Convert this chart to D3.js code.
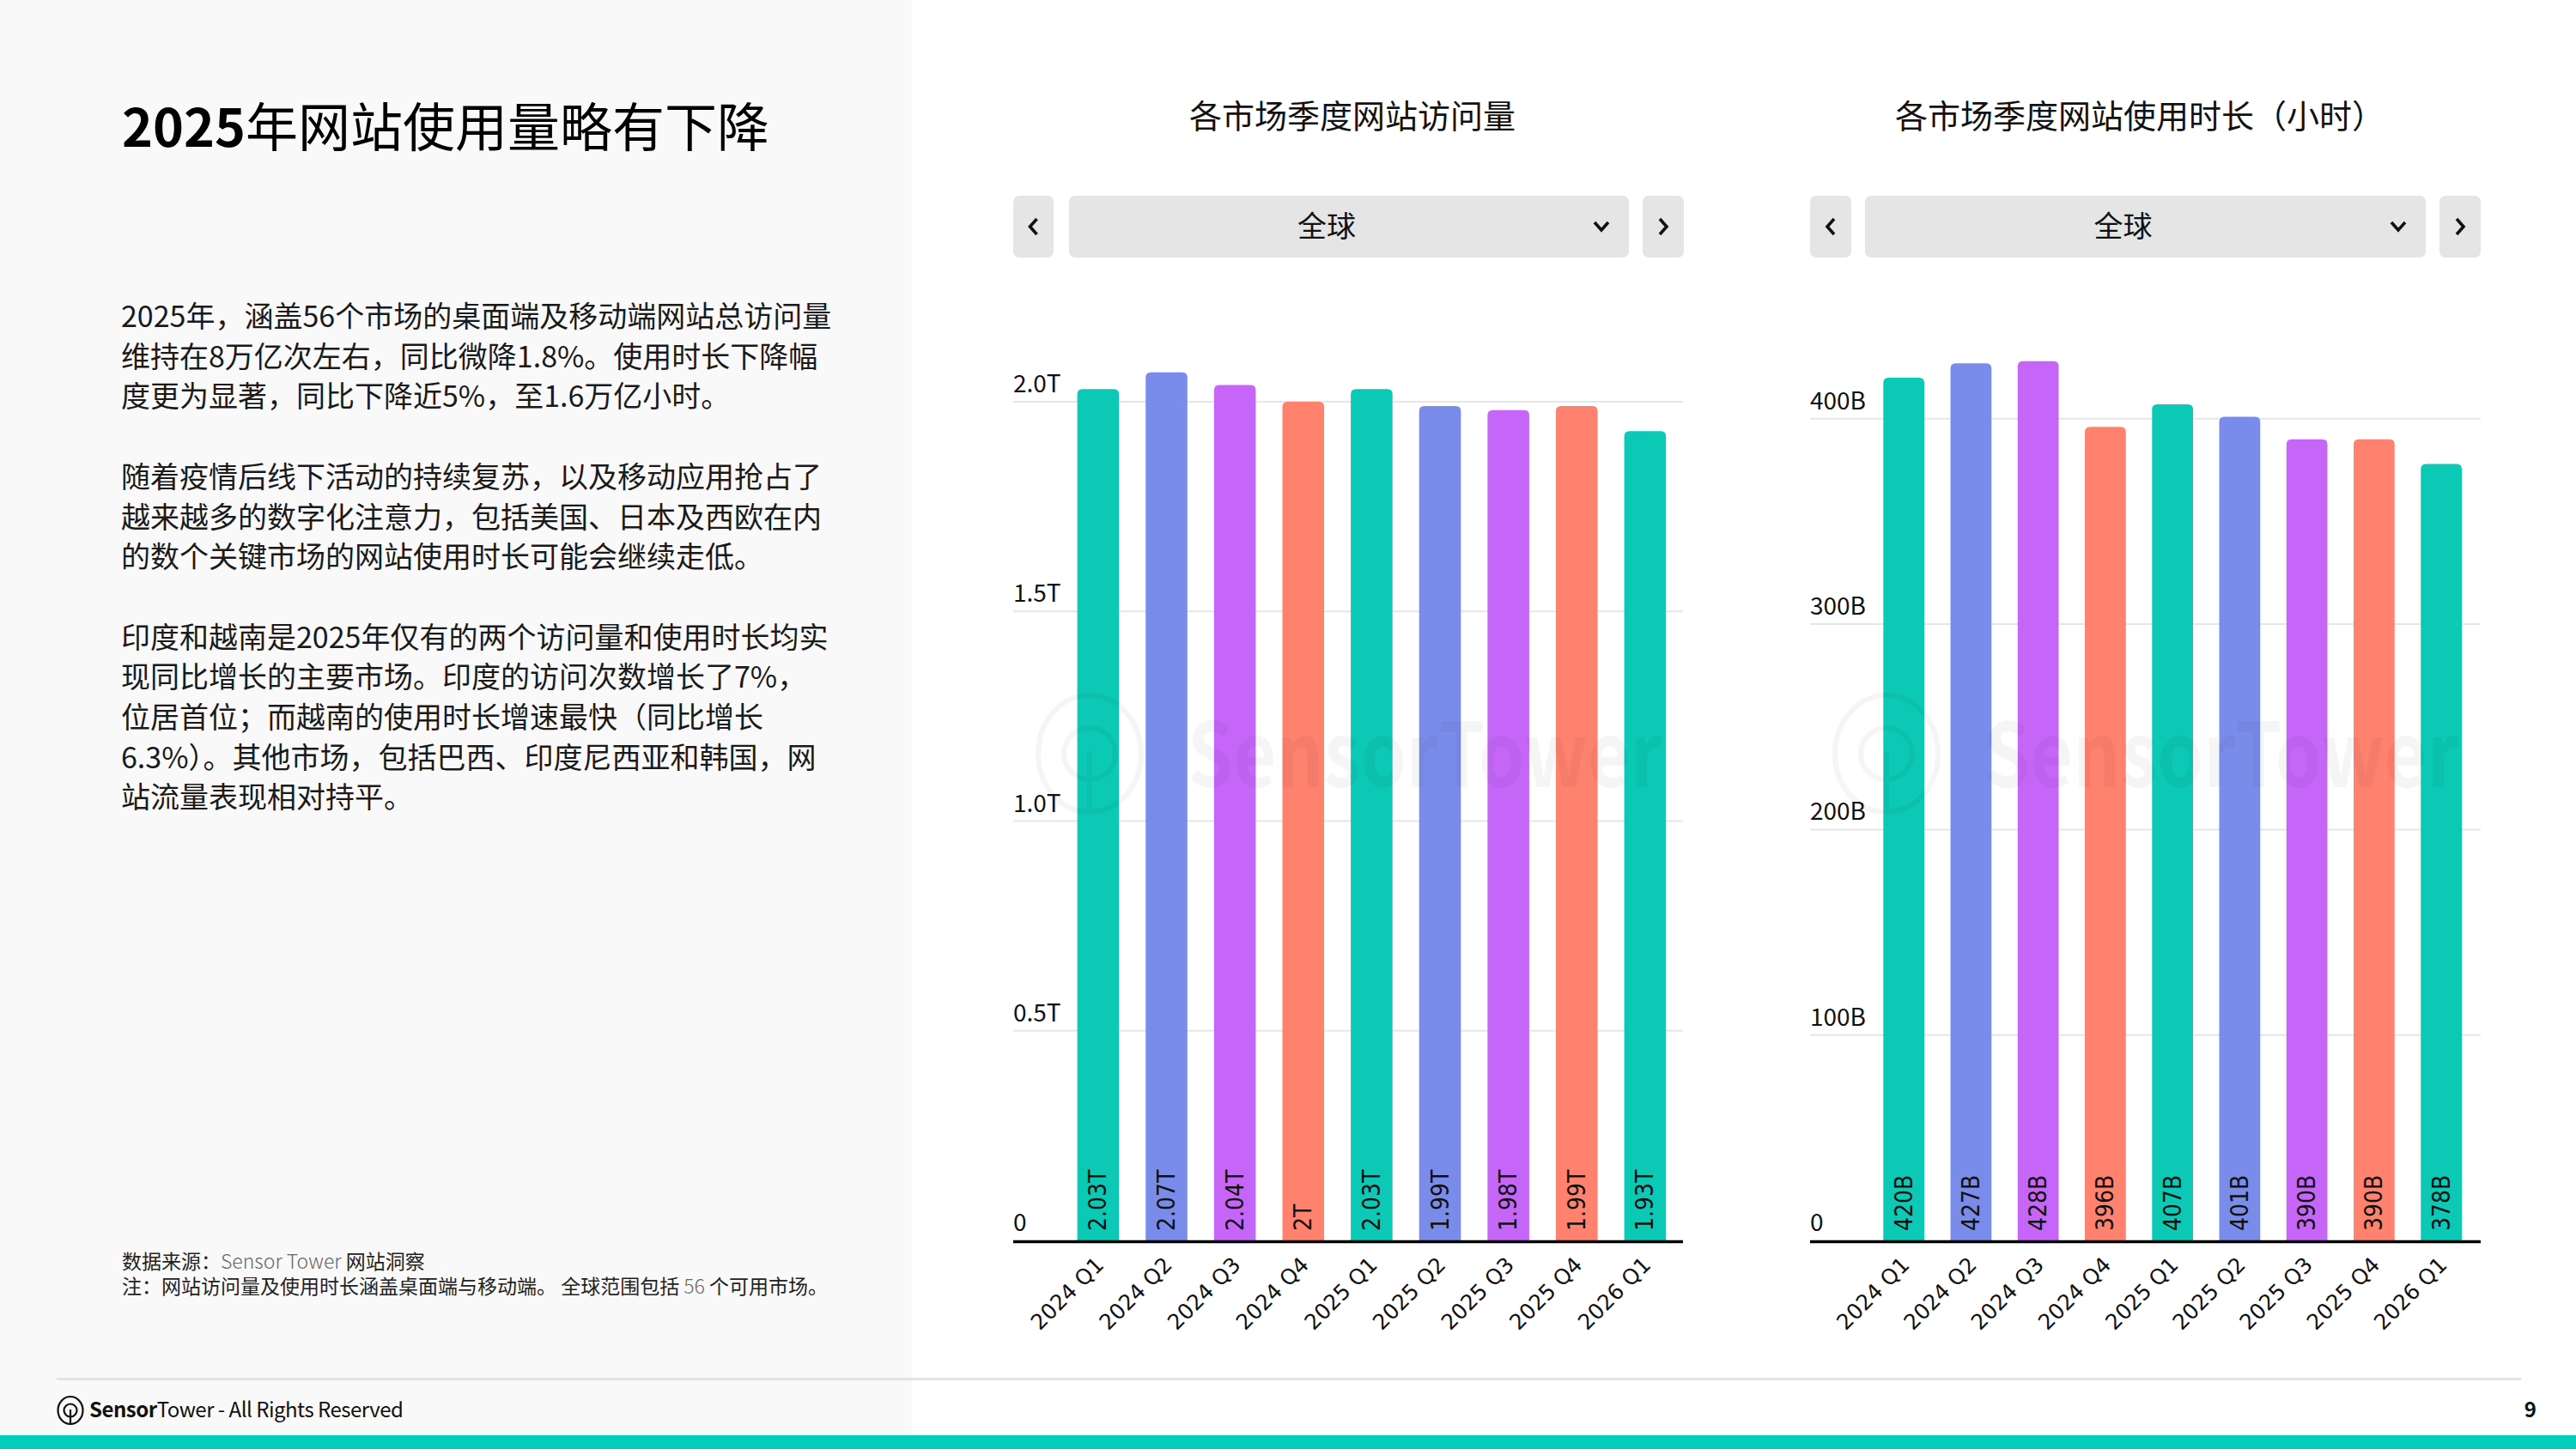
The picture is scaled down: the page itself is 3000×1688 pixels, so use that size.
<!DOCTYPE html>
<html><head><meta charset="utf-8">
<script src="https://cdn.jsdelivr.net/npm/d3@7"></script>
<style>
html,body{margin:0;padding:0;background:#fff;}
svg{display:block;}
</style></head>
<body>
<svg id="c" width="3000" height="1688"></svg>
<script>
// ---------- data ----------
const quarters = ["2024 Q1","2024 Q2","2024 Q3","2024 Q4","2025 Q1","2025 Q2","2025 Q3","2025 Q4","2026 Q1"];
const visits = [2.03, 2.07, 2.04, 2.00, 2.03, 1.99, 1.98, 1.99, 1.93];          // trillions
const visitLabels = ["2.03T","2.07T","2.04T","2T","2.03T","1.99T","1.98T","1.99T","1.93T"];
const hours = [420, 427, 428, 396, 407, 401, 390, 390, 378];                   // billions
const hourLabels = ["420B","427B","428B","396B","407B","401B","390B","390B","378B"];
const visitTicks = [0, 0.5, 1.0, 1.5, 2.0];
const visitTickLabels = ["0","0.5T","1.0T","1.5T","2.0T"];
const hourTicks = [0, 100, 200, 300, 400];
const hourTickLabels = ["0","100B","200B","300B","400B"];
const barColors = ["#0CC9B5","#798CE9","#C566F8","#FF826F"];

const pageTitleNum = "2025";
const pageTitleRest = "年网站使用量略有下降";
const bodyLines = [
  "2025年，涵盖56个市场的桌面端及移动端网站总访问量",
  "维持在8万亿次左右，同比微降1.8%。使用时长下降幅",
  "度更为显著，同比下降近5%，至1.6万亿小时。",
  "",
  "随着疫情后线下活动的持续复苏，以及移动应用抢占了",
  "越来越多的数字化注意力，包括美国、日本及西欧在内",
  "的数个关键市场的网站使用时长可能会继续走低。",
  "",
  "印度和越南是2025年仅有的两个访问量和使用时长均实",
  "现同比增长的主要市场。印度的访问次数增长了7%，",
  "位居首位；而越南的使用时长增速最快（同比增长",
  "6.3%）。其他市场，包括巴西、印度尼西亚和韩国，网",
  "站流量表现相对持平。"
];
const chartTitles = ["各市场季度网站访问量", "各市场季度网站使用时长（小时）"];
const selectorText = "全球";

// ---------- drawing ----------
const svg = d3.select("#c");
const CJK = "'Noto Sans CJK SC','Noto Sans',sans-serif";
const DV = "'DejaVu Sans Condensed','DejaVu Sans',sans-serif";

// left panel
svg.append("rect").attr("x",0).attr("y",0).attr("width",1062).attr("height",1672).attr("fill","#f9f9f9");

// page title
const tt = svg.append("text").attr("x",142).attr("y",171).attr("font-family",CJK).attr("font-size",61).attr("fill","#000");
tt.append("tspan").attr("font-weight",700).text(pageTitleNum);
tt.append("tspan").attr("font-weight",400).text(pageTitleRest);

// body
const body = svg.append("text").attr("font-family",CJK).attr("font-size",34).attr("fill","#1a1a1a");
bodyLines.forEach((l,i)=>{
  if(!l) return;
  body.append("tspan").attr("x",141).attr("y",381 + i*46.7).text(l);
});

// footnotes
const fn1 = svg.append("text").attr("x",142).attr("y",1478).attr("font-family",CJK).attr("font-size",23).attr("fill","#222");
fn1.append("tspan").text("数据来源：");
fn1.append("tspan").attr("fill","#666").attr("font-weight",300).text("Sensor Tower ");
fn1.append("tspan").text("网站洞察");
const fn2 = svg.append("text").attr("x",142).attr("y",1507).attr("font-family",CJK).attr("font-size",23).attr("fill","#222");
fn2.append("tspan").text("注：网站访问量及使用时长涵盖桌面端与移动端。 全球范围包括 ");
fn2.append("tspan").attr("fill","#666").attr("font-weight",300).text("56");
fn2.append("tspan").text(" 个可用市场。");

// separator + footer
svg.append("line").attr("x1",66).attr("x2",2936).attr("y1",1606.5).attr("y2",1606.5).attr("stroke","#e3e3e3").attr("stroke-width",3);
svg.append("rect").attr("x",0).attr("y",1672).attr("width",3000).attr("height",16).attr("fill","#00CEB8");
// footer logo
const lg = svg.append("g").attr("transform","translate(82,1643)");
lg.append("ellipse").attr("rx",14.5).attr("ry",16).attr("fill","none").attr("stroke","#111").attr("stroke-width",2.2);
lg.append("circle").attr("r",7.5).attr("fill","none").attr("stroke","#111").attr("stroke-width",2.2);
lg.append("line").attr("x1",0).attr("x2",0).attr("y1",-1).attr("y2",16).attr("stroke","#111").attr("stroke-width",2.2);
const ft = svg.append("text").attr("x",104).attr("y",1651).attr("font-family",CJK).attr("font-size",24).attr("fill","#111").attr("letter-spacing",-0.5);
ft.append("tspan").attr("font-weight",700).text("Sensor");
ft.append("tspan").text("Tower - All Rights Reserved");
svg.append("text").attr("x",2954).attr("y",1651).attr("text-anchor","end").attr("font-family",CJK).attr("font-size",24).attr("font-weight",700).attr("fill","#111").text("9");

// ---------- charts ----------
const charts = [
  {title: chartTitles[0], titleX: 1575, values: visits, labels: visitLabels, ticks: visitTicks, tickLabels: visitTickLabels,
   domainMax: 2.0, topY: 468, gridL: 1180, gridR: 1960, barL: 1254.6, barR: 1940.2,
   btnL: [1180,1227], main: [1245,1897], btnR: [1913,1961]},
  {title: chartTitles[1], titleX: 2492, values: hours, labels: hourLabels, ticks: hourTicks, tickLabels: hourTickLabels,
   domainMax: 400, topY: 487.8, gridL: 2108, gridR: 2889, barL: 2193.3, barR: 2867,
   btnL: [2108,2156], main: [2172,2825], btnR: [2841,2889]}
];
const baseY = 1445;

charts.forEach(ch => {
  const g = svg.append("g");
  // title
  g.append("text").attr("x",ch.titleX).attr("y",149).attr("text-anchor","middle")
    .attr("font-family",CJK).attr("font-size",38).attr("fill","#111").text(ch.title);
  // selector
  const by = 228, bh = 72;
  [ch.btnL, ch.main, ch.btnR].forEach(b => {
    g.append("rect").attr("x",b[0]).attr("y",by).attr("width",b[1]-b[0]).attr("height",bh).attr("rx",7).attr("fill","#e5e5e5");
  });
  const cy = by + bh/2;
  const lx = (ch.btnL[0]+ch.btnL[1])/2, rx = (ch.btnR[0]+ch.btnR[1])/2;
  g.append("path").attr("d",`M${lx+4},${cy-9}L${lx-4},${cy}L${lx+4},${cy+9}`).attr("fill","none").attr("stroke","#111").attr("stroke-width",3.6);
  g.append("path").attr("d",`M${rx-4},${cy-9}L${rx+4},${cy}L${rx-4},${cy+9}`).attr("fill","none").attr("stroke","#111").attr("stroke-width",3.6);
  const dx = ch.main[1] - 32;
  g.append("path").attr("d",`M${dx-8},${cy-5}L${dx},${cy+4}L${dx+8},${cy-5}`).attr("fill","none").attr("stroke","#111").attr("stroke-width",3.6);
  g.append("text").attr("x",(ch.main[0]+ch.main[1])/2 - 26).attr("y",cy+12).attr("text-anchor","middle")
    .attr("font-family",CJK).attr("font-size",34).attr("fill","#111").text(selectorText);

  // scales
  const y = d3.scaleLinear().domain([0, ch.domainMax]).range([baseY, ch.topY]);
  const pad = 0.39;
  const x = d3.scaleBand().domain(quarters).range([ch.barL, ch.barR]).paddingInner(pad).paddingOuter(0);

  // grid + y labels
  ch.ticks.forEach((t,i) => {
    if (t !== 0) g.append("line").attr("x1",ch.gridL).attr("x2",ch.gridR).attr("y1",y(t)).attr("y2",y(t))
      .attr("stroke","#e6e6e6").attr("stroke-width",2);
    g.append("text").attr("x",ch.gridL).attr("y",y(t)-11).attr("font-family",CJK).attr("font-size",28)
      .attr("fill","#111").text(ch.tickLabels[i]);
  });

  // bars with rounded tops
  const r = 6;
  g.selectAll("path.bar").data(ch.values).join("path").attr("class","bar")
    .attr("fill",(d,i)=>barColors[i%4])
    .attr("d",(d,i)=>{
      const x0 = x(quarters[i]), w = x.bandwidth(), yt = y(d);
      return `M${x0},${baseY}V${yt+r}Q${x0},${yt} ${x0+r},${yt}H${x0+w-r}Q${x0+w},${yt} ${x0+w},${yt+r}V${baseY}Z`;
    });

  // value labels
  g.selectAll("text.val").data(ch.labels).join("text").attr("class","val")
    .attr("transform",(d,i)=>`translate(${x(quarters[i])+x.bandwidth()/2},${baseY-11}) rotate(-90)`)
    .attr("dominant-baseline","central").attr("font-family",DV).attr("font-size",28).attr("fill","#111")
    .text(d=>d);

  // baseline
  g.append("line").attr("x1",ch.gridL).attr("x2",ch.gridR).attr("y1",baseY+1.5).attr("y2",baseY+1.5)
    .attr("stroke","#000").attr("stroke-width",3.5);

  // x axis labels
  const ax = g.append("g").attr("transform",`translate(0,${baseY})`)
    .call(d3.axisBottom(x).tickSize(0).tickPadding(0));
  ax.select(".domain").remove();
  ax.selectAll("text").attr("font-family","'DejaVu Sans',sans-serif").attr("font-size",25).attr("fill","#111")
    .attr("text-anchor","end").attr("dy",null).attr("y",null)
    .attr("transform","translate(8,30) rotate(-45)");

  // watermark
  const wm = g.append("g").attr("opacity",0.035);
  wm.append("ellipse").attr("cx",ch.gridL+89).attr("cy",878).attr("rx",60).attr("ry",68).attr("fill","none").attr("stroke","#000").attr("stroke-width",6);
  wm.append("circle").attr("cx",ch.gridL+89).attr("cy",878).attr("r",30).attr("fill","none").attr("stroke","#000").attr("stroke-width",6);
  wm.append("line").attr("x1",ch.gridL+89).attr("x2",ch.gridL+89).attr("y1",875).attr("y2",946).attr("stroke","#000").attr("stroke-width",6);
  wm.append("text").attr("x",ch.gridL+203).attr("y",917).attr("font-family",CJK).attr("font-size",104).attr("font-weight",700)
    .attr("fill","#000").attr("textLength",553).attr("lengthAdjust","spacingAndGlyphs").text("SensorTower");
});
</script>
</body></html>
